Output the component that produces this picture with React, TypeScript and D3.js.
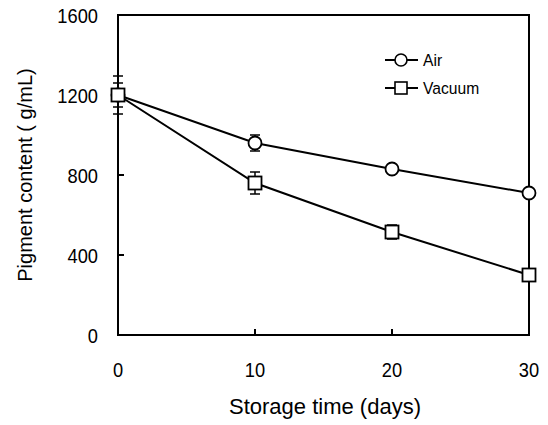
import { useEffect, useRef } from 'react';
import * as d3 from 'd3';

const days = [0, 10, 20, 30];
const airValues = [1200, 960, 830, 710];
const airErrors = [95, 40, 22, 15];
const vacuumValues = [1200, 760, 515, 300];
const vacuumErrors = [60, 55, 35, 15];
const yTicks = [0, 400, 800, 1200, 1600];
const xTicks = [0, 10, 20, 30];

const FONT = "'Liberation Sans', Arial, sans-serif";

const Chart = () => {
  const ref = useRef<SVGSVGElement>(null);

  useEffect(() => {
    const width = 548;
    const height = 425;
    const left = 118;
    const right = 529;
    const top = 15;
    const bottom = 335;

    const x = d3.scaleLinear().domain([0, 30]).range([left, right]);
    const y = d3.scaleLinear().domain([0, 1600]).range([bottom, top]);

    const svg = d3.select(ref.current);
    svg.selectAll('*').remove();
    svg.attr('width', width).attr('height', height);

    svg.append('rect').attr('width', width).attr('height', height).attr('fill', '#fff');

    // frame
    svg
      .append('rect')
      .attr('x', left)
      .attr('y', top)
      .attr('width', right - left)
      .attr('height', bottom - top)
      .attr('fill', 'none')
      .attr('stroke', '#000')
      .attr('stroke-width', 2);

    // y ticks (inner) and labels
    svg
      .selectAll('.ytick')
      .data(yTicks.slice(1, -1))
      .join('line')
      .attr('x1', left)
      .attr('x2', left + 6)
      .attr('y1', (d) => y(d))
      .attr('y2', (d) => y(d))
      .attr('stroke', '#000')
      .attr('stroke-width', 2);

    svg
      .selectAll('.ylab')
      .data(yTicks)
      .join('text')
      .attr('transform', (d) => `translate(${left - 20},${y(d)}) scale(0.87,1)`)
      .attr('dy', '0.36em')
      .attr('text-anchor', 'end')
      .attr('font-family', FONT)
      .attr('font-size', 21)
      .text((d) => d);

    // x ticks (inner) and labels
    svg
      .selectAll('.xtick')
      .data(xTicks.slice(1, -1))
      .join('line')
      .attr('x1', (d) => x(d))
      .attr('x2', (d) => x(d))
      .attr('y1', bottom)
      .attr('y2', bottom - 6)
      .attr('stroke', '#000')
      .attr('stroke-width', 2);

    svg
      .selectAll('.xlab')
      .data(xTicks)
      .join('text')
      .attr('transform', (d) => `translate(${x(d)},${bottom + 42}) scale(0.87,1)`)
      .attr('text-anchor', 'middle')
      .attr('font-family', FONT)
      .attr('font-size', 21)
      .text((d) => d);

    svg
      .append('text')
      .attr('x', 325)
      .attr('y', 414)
      .attr('text-anchor', 'middle')
      .attr('font-family', FONT)
      .attr('font-size', 22)
      .text('Storage time (days)');

    svg
      .append('text')
      .attr('transform', `translate(32, 175) rotate(-90)`)
      .attr('text-anchor', 'middle')
      .attr('font-family', FONT)
      .attr('font-size', 20)
      .text('Pigment content ( g/mL)');

    const line = d3
      .line<number>()
      .x((_, i) => x(days[i]))
      .y((d) => y(d));

    const drawSeries = (values: number[], errors: number[], shape: 'circle' | 'square') => {
      const g = svg.append('g');
      g.append('path')
        .attr('d', line(values))
        .attr('fill', 'none')
        .attr('stroke', '#000')
        .attr('stroke-width', 2);

      values.forEach((v, i) => {
        const cx = x(days[i]);
        const e = errors[i];
        g.append('line')
          .attr('x1', cx)
          .attr('x2', cx)
          .attr('y1', y(v + e))
          .attr('y2', y(v - e))
          .attr('stroke', '#000')
          .attr('stroke-width', 1.5);
        [v + e, v - e].forEach((c) => {
          g.append('line')
            .attr('x1', cx - 5)
            .attr('x2', cx + 5)
            .attr('y1', y(c))
            .attr('y2', y(c))
            .attr('stroke', '#000')
            .attr('stroke-width', 1.5);
        });
      });

      values.forEach((v, i) => {
        const cx = x(days[i]);
        const cy = y(v);
        if (shape === 'circle') {
          g.append('circle')
            .attr('cx', cx)
            .attr('cy', cy)
            .attr('r', 6.5)
            .attr('fill', '#fff')
            .attr('stroke', '#000')
            .attr('stroke-width', 1.8);
        } else {
          g.append('rect')
            .attr('x', cx - 6.5)
            .attr('y', cy - 6.5)
            .attr('width', 13)
            .attr('height', 13)
            .attr('fill', '#fff')
            .attr('stroke', '#000')
            .attr('stroke-width', 1.8);
        }
      });
    };

    drawSeries(airValues, airErrors, 'circle');
    drawSeries(vacuumValues, vacuumErrors, 'square');

    // legend
    const legend = [
      { label: 'Air', shape: 'circle', y: 60 },
      { label: 'Vacuum', shape: 'square', y: 88 },
    ];
    legend.forEach((item) => {
      const lg = svg.append('g');
      lg.append('line')
        .attr('x1', 385)
        .attr('x2', 418)
        .attr('y1', item.y)
        .attr('y2', item.y)
        .attr('stroke', '#000')
        .attr('stroke-width', 2);
      if (item.shape === 'circle') {
        lg.append('circle')
          .attr('cx', 401)
          .attr('cy', item.y)
          .attr('r', 6)
          .attr('fill', '#fff')
          .attr('stroke', '#000')
          .attr('stroke-width', 1.6);
      } else {
        lg.append('rect')
          .attr('x', 395)
          .attr('y', item.y - 6)
          .attr('width', 12)
          .attr('height', 12)
          .attr('fill', '#fff')
          .attr('stroke', '#000')
          .attr('stroke-width', 1.6);
      }
      lg.append('text')
        .attr('transform', `translate(423,${item.y}) scale(0.92,1)`)
        .attr('dy', '0.36em')
        .attr('font-family', FONT)
        .attr('font-size', 17)
        .text(item.label);
    });
  }, []);

  return <svg ref={ref} style={{ display: 'block' }} />;
};

export default function App() {
  return (
    <div style={{ position: 'absolute', left: 0, top: 0 }}>
      <Chart />
    </div>
  );
}
